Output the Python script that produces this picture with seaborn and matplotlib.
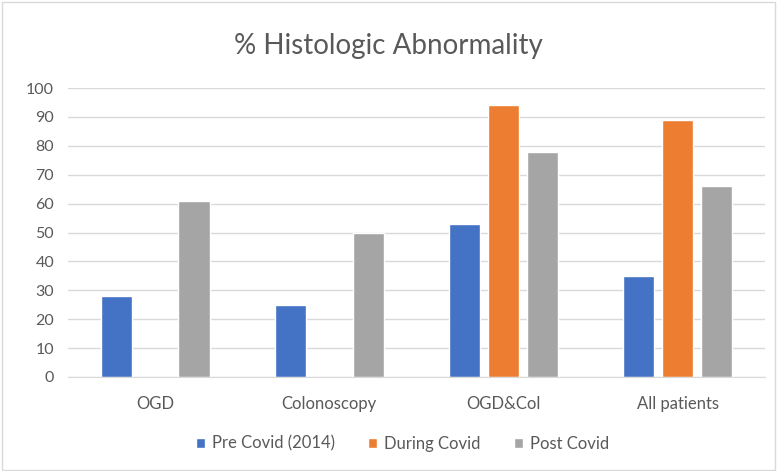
import numpy as np
import pandas as pd
import seaborn as sns
import matplotlib.pyplot as plt
from matplotlib.patches import Rectangle

# values
categories = ['OGD', 'Colonoscopy', 'OGD&Col', 'All patients']
pre_covid = [28, 25, 53, 35]
during_covid = [np.nan, np.nan, 94, 89]
post_covid = [61, 50, 78, 66]
series = ['Pre Covid (2014)', 'During Covid', 'Post Covid']
colors = ['#4472C4', '#ED7D31', '#A5A5A5']

df = pd.DataFrame({
    'category': categories * 3,
    'value': pre_covid + during_covid + post_covid,
    'series': [s for s in series for _ in categories],
})

sns.set_style('white')
plt.rcParams['font.family'] = ['Lato', 'DejaVu Sans']

fig = plt.figure(figsize=(7.77, 4.71), dpi=100)
ax = fig.add_axes([0.0875, 0.1996, 0.897, 0.6134])

sns.barplot(data=df, x='category', y='value', hue='series', order=categories,
            hue_order=series, palette=colors, width=0.67, gap=0.2,
            saturation=1, ax=ax, legend=True)

ax.set_ylim(0, 100)
ax.set_yticks(range(0, 101, 10))
ax.set_xlim(-0.5, 3.5)
ax.grid(axis='y', color='#d9d9d9', linewidth=1)
ax.set_axisbelow(True)
for side in ['top', 'right', 'left']:
    ax.spines[side].set_visible(False)
ax.spines['bottom'].set_color('#d9d9d9')
ax.tick_params(axis='y', length=0, labelsize=11.5, colors='#595959', pad=10)
ax.tick_params(axis='x', length=0, labelsize=12, colors='#595959', pad=14)
ax.set_xlabel('')
ax.set_ylabel('')

fig.suptitle('% Histologic Abnormality', y=0.93, fontsize=20, color='#595959')

handles, labels = ax.get_legend_handles_labels()
ax.get_legend().remove()
fig.legend(handles, labels, loc='center', bbox_to_anchor=(0.518, 0.058), ncol=3,
           frameon=False, fontsize=12, handlelength=0.55, handleheight=0.55,
           handletextpad=0.4, columnspacing=2.0, labelcolor='#595959')

fig.patches.append(Rectangle((0.002, 0.002), 0.996, 0.994, transform=fig.transFigure,
                             fill=False, edgecolor='#d9d9d9', linewidth=1))

fig.savefig('out.png', dpi=100)
